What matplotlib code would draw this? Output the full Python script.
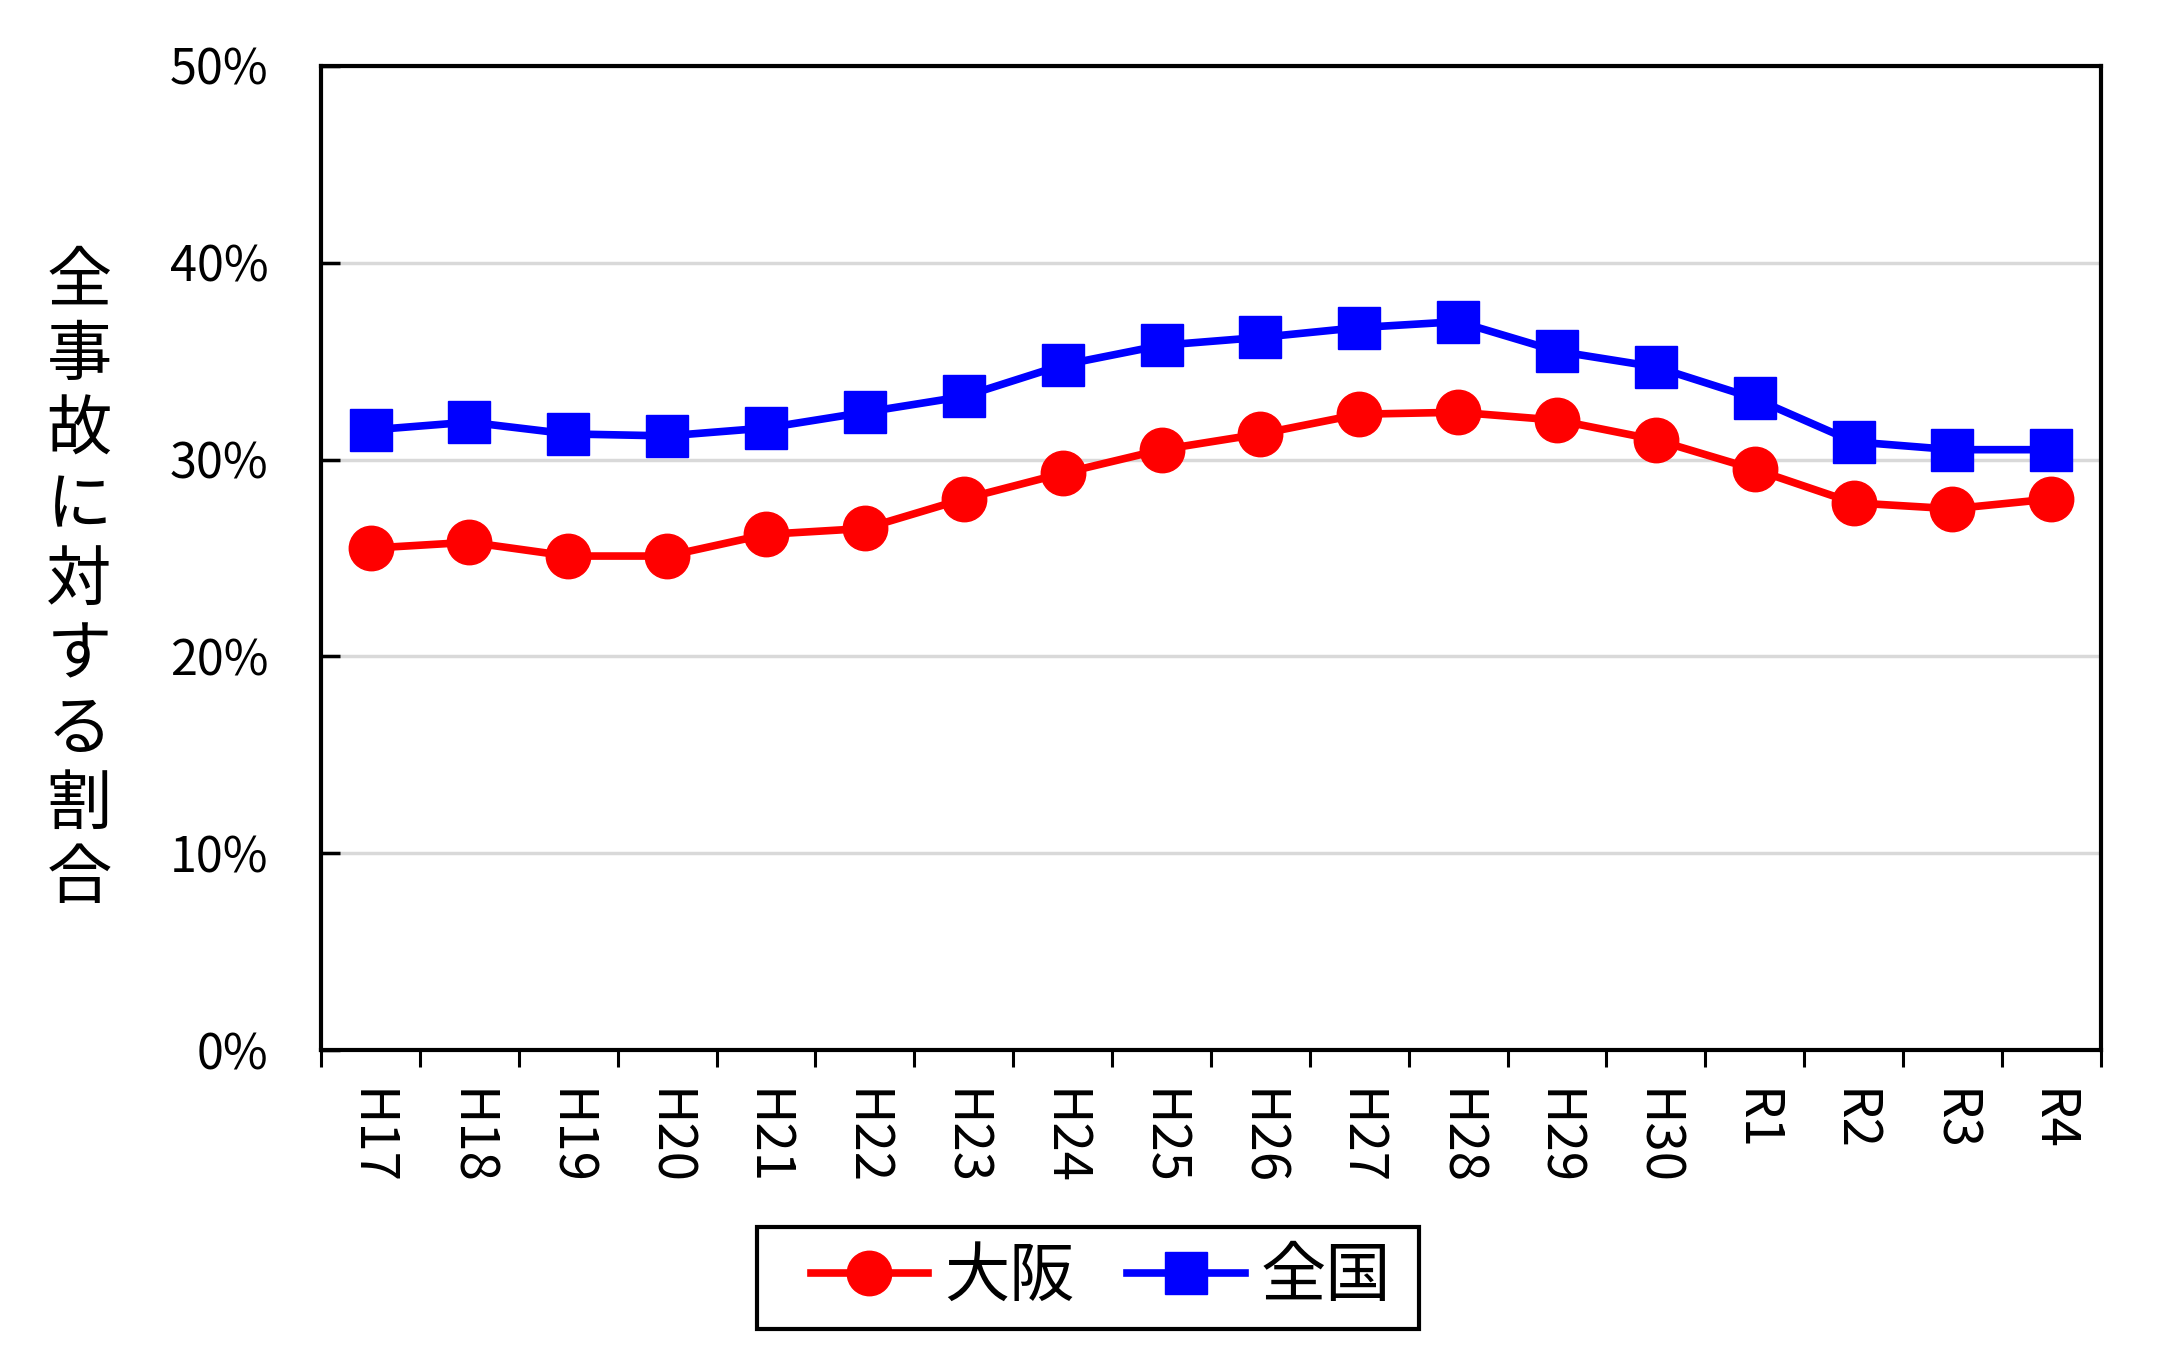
import matplotlib
matplotlib.use("Agg")
import matplotlib.pyplot as plt
from matplotlib.ticker import FuncFormatter, MultipleLocator, FixedLocator
from matplotlib.patches import Rectangle

plt.rcParams['font.family'] = ['Noto Sans CJK JP', 'DejaVu Sans']

categories = ["H17", "H18", "H19", "H20", "H21", "H22", "H23", "H24", "H25",
              "H26", "H27", "H28", "H29", "H30", "R1", "R2", "R3", "R4"]
osaka = [25.5, 25.8, 25.1, 25.1, 26.2, 26.5, 28.0, 29.3, 30.5,
         31.3, 32.3, 32.4, 32.0, 31.0, 29.5, 27.8, 27.5, 28.0]
zenkoku = [31.5, 31.9, 31.3, 31.2, 31.6, 32.4, 33.2, 34.8, 35.8,
           36.2, 36.7, 37.0, 35.5, 34.7, 33.1, 30.9, 30.5, 30.5]
series_names = ["大阪", "全国"]
ylabel = "全事故に対する割合"

fig = plt.figure(figsize=(21.77, 13.66), dpi=100)
ax = fig.add_axes([0.1475, 0.231, 0.965 - 0.1475, 0.952 - 0.231])

x = list(range(len(categories)))
ax.plot(x, osaka, color='#ff0000', lw=5.5, marker='o', ms=32, label=series_names[0], zorder=3)
ax.plot(x, zenkoku, color='#0000ff', lw=5.5, marker='s', ms=30, label=series_names[1], zorder=3)

ax.set_xlim(-0.5, len(categories) - 0.5)
ax.set_ylim(0, 50)
ax.yaxis.set_major_locator(MultipleLocator(10))
ax.yaxis.set_major_formatter(FuncFormatter(lambda v, p: f"{int(v)}%"))
ax.grid(axis='y', color='#d9d9d9', lw=2.5, zorder=0)
ax.set_axisbelow(True)

# category ticks at boundaries, labels at centres
ax.xaxis.set_major_locator(FixedLocator([i - 0.5 for i in range(len(categories) + 1)]))
ax.xaxis.set_major_formatter(FuncFormatter(lambda v, p: ""))
ax.set_xticks(x, minor=True)
ax.set_xticklabels(categories, minor=True, rotation=-90, fontsize=38)
ax.tick_params(axis='x', which='major', direction='out', length=12, width=2.2)
ax.tick_params(axis='x', which='minor', length=0, pad=28)
ax.tick_params(axis='y', direction='in', length=14, width=2.5, pad=38, labelsize=35)

for s in ax.spines.values():
    s.set_linewidth(3)
    s.set_color('black')

fig.text(0.0363, 0.5745, "\n".join(ylabel), ha='center', va='center',
         fontsize=47, linespacing=1.16)

leg = fig.legend(loc='center', bbox_to_anchor=(0.5058, 0.0645), ncol=2,
                 fontsize=47, handlelength=1.8, handletextpad=0.25,
                 columnspacing=0.8, frameon=False, borderpad=0.2)

# legend frame box
fig.patches.append(Rectangle((0.3477, 0.0271), 0.3041, 0.0747, transform=fig.transFigure,
                             fill=False, edgecolor='black', linewidth=3, zorder=5))

fig.savefig("out.png", dpi=100)
